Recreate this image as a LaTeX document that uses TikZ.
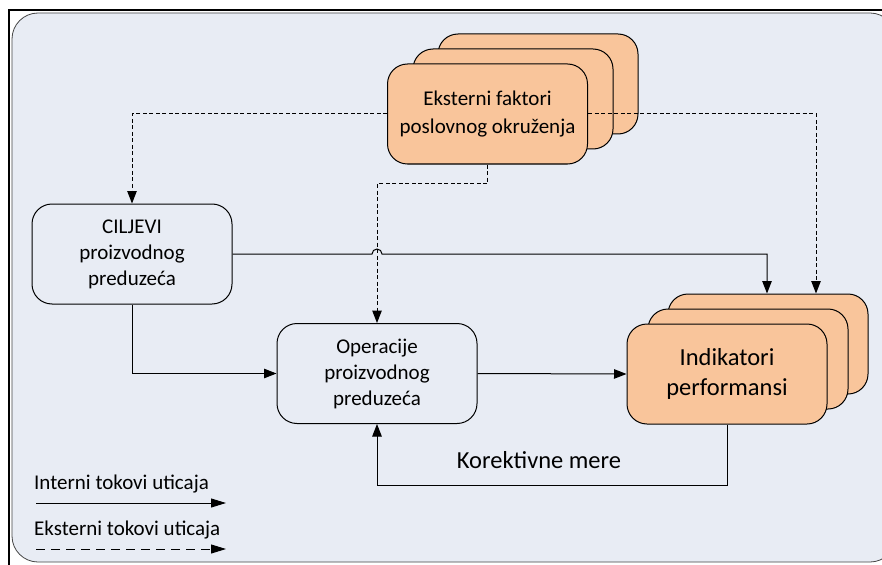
\documentclass[tikz,border=0pt]{standalone}
\usepackage{fontspec}
\setmainfont{Carlito}
\usetikzlibrary{arrows.meta}
\definecolor{panel}{HTML}{E8ECF4}
\definecolor{peach}{HTML}{F9C59B}
\begin{document}
\begin{tikzpicture}[x=1pt,y=-1pt,
  box/.style={draw=black, line width=1pt, rounded corners=20pt,
    minimum width=200pt, minimum height=100pt, align=center, inner sep=0pt},
  plainbox/.style={box, font=\fontsize{21}{26}\selectfont},
  peachbox/.style={box, fill=peach},
  flow/.style={line width=1pt, -{Triangle[length=12.5pt,width=9.5pt]}},
  ext/.style={flow, dash pattern=on 4pt off 2.5pt},
  legendflow/.style={line width=1pt, -{Triangle[length=15pt,width=9pt]}},
  legendtext/.style={anchor=base west, inner sep=0pt, font=\fontsize{21}{26}\selectfont},
]
\useasboundingbox (0,0) rectangle (882,564);
\clip (0,0) rectangle (882,564);
\fill[white] (0,0) rectangle (882,564);

% outer frame and panel
\draw[line width=2pt] (9,10) rectangle (930,620);
\draw[fill=panel, draw=gray!55!black, line width=0.8pt, rounded corners=26pt]
  (12,13) rectangle (896,562);

% stacked external-factor boxes
\node[peachbox] (eksB) at (538,84) {};
\node[peachbox] (eksM) at (513,99) {};
\node[peachbox, font=\fontsize{21}{28}\selectfont] (eks) at (487.5,114)
  {Eksterni faktori\\poslovnog okruženja};

% stacked indicator boxes
\node[peachbox] (indB) at (768,344) {};
\node[peachbox] (indM) at (748,359) {};
\node[peachbox, font=\fontsize{24.5}{30}\selectfont] (ind) at (727,374)
  {Indikatori\\performansi};

% company boxes
\node[plainbox] (cilj) at (132,254) {CILJEVI\\proizvodnog\\preduzeća};
\node[plainbox] (oper) at (377,373.5) {Operacije\\proizvodnog\\preduzeća};

% external influences
\draw[ext] (eks.west) -| (cilj.north);
\draw[ext] (eks.south) -- ++(0,19) -| (oper.north);
\draw[ext] (eks.east) -| ([xshift=48pt]indB.north);

% internal influences
\draw[flow] (cilj.east) -- ([xshift=-5pt]oper.north |- cilj.east)
  arc[start angle=180, end angle=0, radius=5pt]
  -| ([xshift=-1pt]indB.north);
\draw[flow] (cilj.south) |- (oper.west);
\draw[flow] (oper.east) -- (ind.west);
\draw[flow] (ind.south) -- ++(0,61) -| (oper.south);
\node[font=\fontsize{24.5}{30}\selectfont] (kor) at (539,460) {Korektivne mere};

% legend
\node[legendtext] (lgi) at (34,489) {Interni tokovi uticaja};
\coordinate (li1) at (36,503);
\coordinate (li2) at (226,503);
\draw[legendflow] (li1) -- (li2);
\node[legendtext] (lge) at (34,535) {Eksterni tokovi uticaja};
\coordinate (le1) at (36,549);
\coordinate (le2) at (226,549);
\draw[legendflow, dash pattern=on 9pt off 6pt] (le1) -- (le2);
\end{tikzpicture}
\end{document}
